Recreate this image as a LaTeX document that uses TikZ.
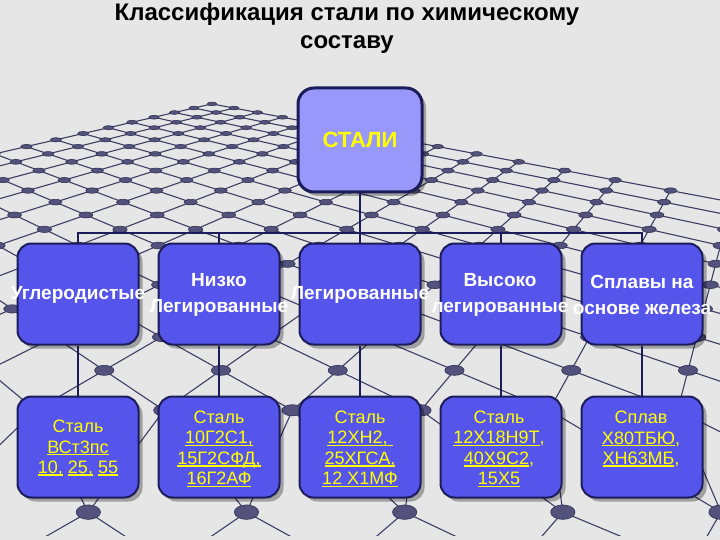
\documentclass[tikz,border=0pt]{standalone}
\usepackage{fontspec}
\setmainfont{Liberation Sans}
\usetikzlibrary{shadows}
\definecolor{bg}{RGB}{230,230,230}
\definecolor{gridc}{RGB}{62,62,100}
\definecolor{dotc}{RGB}{82,82,125}
\definecolor{dotedge}{RGB}{50,50,85}
\definecolor{navy}{RGB}{28,28,90}
\definecolor{boxc}{RGB}{85,85,235}
\definecolor{topc}{RGB}{152,152,250}
\definecolor{yel}{RGB}{255,255,0}
\newcommand\ulx[1]{\leavevmode\setbox0\hbox{#1}\rlap{\rule[-2.2pt]{\wd0}{1.4pt}}\box0\relax}
\begin{document}
\begin{tikzpicture}[x=1pt,y=-1pt,
  declare function={
    gZ(\a,\b)=4.82-(\a+\b)*0.146-(\a+\b>23.5)*0.129+(\a+\b>24.5)*0.04;
    gX(\a,\b)=0.472+(\a-\b)*0.146;
    px(\a,\b)=149+643*gX(\a,\b)/gZ(\a,\b);
    py(\a,\b)=-29.5+643/gZ(\a,\b);},
  gridline/.style={draw=gridc, line width=1.1pt, line join=round},
  dotstyle/.style={fill=dotc, draw=dotedge, line width=0.6pt},
  conn/.style={draw=navy, line width=2pt},
  boxbase/.style={draw=navy, line width=2pt, rounded corners=14pt, inner sep=0pt,
    drop shadow={shadow xshift=4pt, shadow yshift=-4pt, fill=black, opacity=0.3}},
  topbox/.style={boxbase, line width=3pt, fill=topc, minimum width=124pt, minimum height=104pt, rounded corners=16pt},
  box/.style={boxbase, fill=boxc, minimum width=121pt, minimum height=101pt},
  lbl2/.style={text=white, font=\bfseries\fontsize{19}{26}\selectfont, align=center, inner sep=0pt},
  lbl3/.style={text=yel, font=\fontsize{18}{20.5}\selectfont, align=center, inner sep=0pt},
  ttl/.style={text=black, font=\bfseries\fontsize{24}{28}\selectfont, align=center, inner sep=0pt}
]
\useasboundingbox (0,0) rectangle (720,540);
\fill[bg] (0,0) rectangle (720,540);
% perspective net
\begin{scope}
\clip (0,0) rectangle (720,535);
\foreach \i in {0,...,27}{
  \pgfmathtruncatemacro\m{27-\i}
  \draw[gridline] plot[samples at={0,...,\m}] ({px(\i,\x)},{py(\i,\x)});
  \draw[gridline] plot[samples at={0,...,\m}] ({px(\x,\i)},{py(\x,\i)});
}
\foreach \i in {0,...,25}{
  \pgfmathtruncatemacro\m{25-\i}
  \foreach \j in {0,...,\m}{
    \pgfmathsetmacro\zz{gZ(\i,\j)}
    \pgfmathsetmacro\hr{2.5+11.5/\zz}
    \pgfmathsetmacro\vr{\hr*(0.3+0.35/\zz)}
    \filldraw[dotstyle] ({px(\i,\j)},{py(\i,\j)}) ellipse [x radius=\hr pt, y radius=\vr pt];
  }
}
\end{scope}
% title
\node[ttl, anchor=north] (title) at (347,3) {Классификация стали по химическому\\составу};
% boxes
\node[topbox] (top) at (360,140) {};
\node[box] (c1) at (78,294) {};
\node[box] (c2) at (219,294) {};
\node[box] (c3) at (360,294) {};
\node[box] (c4) at (501,294) {};
\node[box] (c5) at (642,294) {};
\node[box] (d1) at (78,447) {};
\node[box] (d2) at (219,447) {};
\node[box] (d3) at (360,447) {};
\node[box] (d4) at (501,447) {};
\node[box] (d5) at (642,447) {};
% connectors
\draw[conn] (top.south) -- (c3.north);
\draw[conn] (c1.north) -- ++(0,-10) -| (c5.north);
\draw[conn] (c2.north) -- ++(0,-10);
\draw[conn] (c4.north) -- ++(0,-10);
\foreach \k in {1,...,5}{\draw[conn] (c\k.south) -- (d\k.north);}
% labels
\node[text=yel, font=\bfseries\fontsize{22}{26}\selectfont, inner sep=0pt] (ttop) at (top.center) {СТАЛИ};
\node[lbl2] (t1) at (78,295) {Углеродистые};
\node[lbl2] (t2) at (219,295) {Низко\\Легированные};
\node[lbl2] (t3) at (360,295) {Легированные};
\node[lbl2] (t4) at (500,295) {Высоко\\легированные};
\node[lbl2] (t5) at (642,295) {Сплавы на\\основе железа};
\node[lbl3] (u1) at (78,448) {Сталь\\\ulx{ВСт3пс}\\\ulx{10,} \ulx{25,} \ulx{55}};
\node[lbl3] (u2) at (219,449) {Сталь\\\ulx{10Г2С1,}\\\ulx{15Г2СФД,}\\\ulx{16Г2АФ}};
\node[lbl3] (u3) at (360,449) {Сталь\\\ulx{12ХН2, }\\\ulx{25ХГСА,}\\\ulx{12 Х1МФ}};
\node[lbl3] (u4) at (499,449) {Сталь\\\ulx{12Х18Н9Т},\\\ulx{40Х9С2},\\\ulx{15Х5}};
\node[lbl3] (u5) at (641,439) {Сплав\\\ulx{Х80ТБЮ},\\\ulx{ХН63МБ},};
\end{tikzpicture}
\end{document}
